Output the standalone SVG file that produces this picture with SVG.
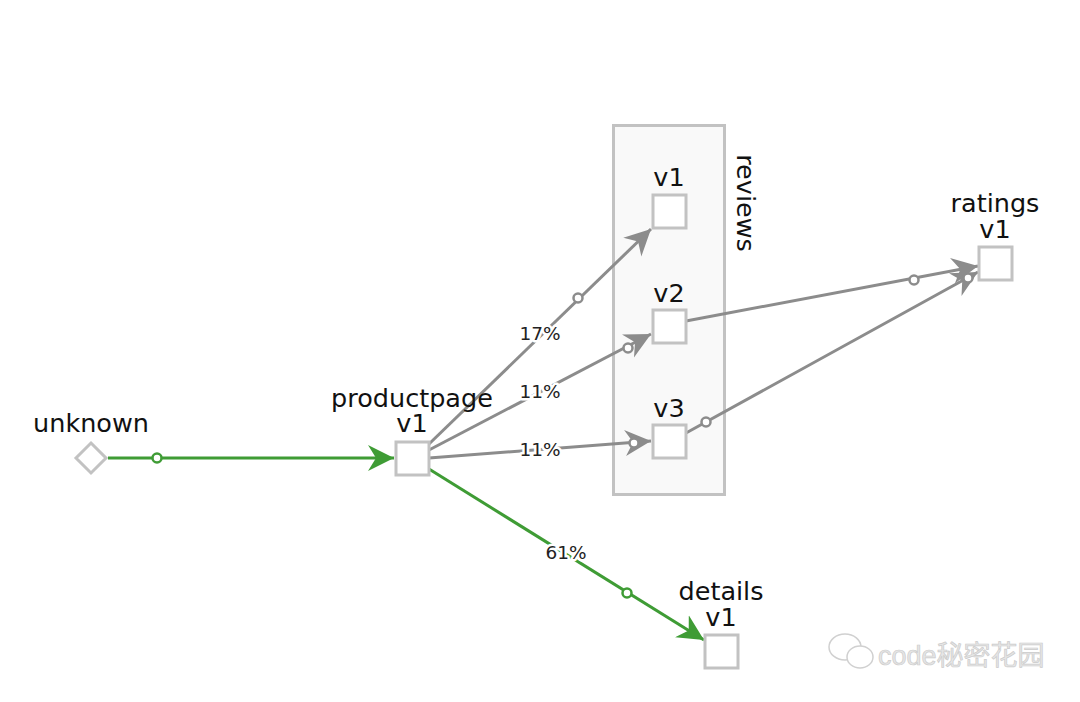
<svg xmlns="http://www.w3.org/2000/svg" width="1080" height="702" viewBox="0 0 1080 702">
<style>
.node{fill:#fff;stroke:#c2c2c2;stroke-width:3}
.lbl{font-family:"DejaVu Sans",Verdana,sans-serif;font-size:25.5px;fill:#111;text-anchor:middle}
.elbl{font-family:"DejaVu Sans",Verdana,sans-serif;font-size:18.5px;fill:#222;text-anchor:middle;paint-order:stroke;stroke:#fff;stroke-width:5px;stroke-linejoin:round}
.eg{stroke:#3f9c35;stroke-width:3;fill:none}
.ey{stroke:#8c8c8c;stroke-width:3;fill:none}
.dg{fill:#fff;stroke:#3f9c35;stroke-width:2.5}
.dy{fill:#fff;stroke:#8c8c8c;stroke-width:2.5}
</style>
<defs>
<marker id="ag" markerUnits="userSpaceOnUse" viewBox="-26 -14 28 28" refX="0" refY="0" markerWidth="28" markerHeight="28" orient="auto">
<path d="M0,0 L-26,-13 L-18,0 L-26,13 Z" fill="#3f9c35"/>
</marker>
<marker id="ay" markerUnits="userSpaceOnUse" viewBox="-26 -14 28 28" refX="0" refY="0" markerWidth="28" markerHeight="28" orient="auto">
<path d="M0,0 L-26,-13 L-18,0 L-26,13 Z" fill="#8c8c8c"/>
</marker>
</defs>
<rect width="1080" height="702" fill="#fff"/>
<g id="reviews">
<rect x="613.5" y="125.5" width="111" height="369" fill="#f9f9f9" stroke="#c2c2c2" stroke-width="3"/>
<text class="lbl" transform="translate(744,203) rotate(90)" x="0" y="0" dominant-baseline="middle">reviews</text>
</g>
<g id="edges">
<line class="eg" x1="108" y1="458" x2="394" y2="458" marker-end="url(#ag)"/>
<line class="eg" x1="429" y1="469" x2="704" y2="640" marker-end="url(#ag)"/>
<line class="ey" x1="429" y1="444" x2="651" y2="229" marker-end="url(#ay)"/>
<line class="ey" x1="429" y1="450" x2="651" y2="334" marker-end="url(#ay)"/>
<line class="ey" x1="429" y1="458" x2="651" y2="441" marker-end="url(#ay)"/>
<line class="ey" x1="686" y1="321" x2="978" y2="266" marker-end="url(#ay)"/>
<line class="ey" x1="686" y1="433" x2="978" y2="272" marker-end="url(#ay)"/>
<circle class="dg" cx="157" cy="458" r="4.5"/>
<circle class="dg" cx="627" cy="593" r="4.5"/>
<circle class="dy" cx="578" cy="298" r="4.5"/>
<circle class="dy" cx="628" cy="348" r="4.5"/>
<circle class="dy" cx="634" cy="443" r="4.5"/>
<circle class="dy" cx="914" cy="280" r="4.5"/>
<circle class="dy" cx="706" cy="422" r="4.5"/>
<circle class="dy" cx="968" cy="278" r="4.5"/>
<text class="elbl" x="540" y="340">17%</text>
<text class="elbl" x="540" y="398">11%</text>
<text class="elbl" x="540" y="456">11%</text>
<text class="elbl" x="566" y="559">61%</text>
</g>
<g id="unknown">
<polygon class="node" points="91,443 106,458 91,473 76,458"/>
<text class="lbl" x="91" y="432">unknown</text>
</g>
<g id="productpage">
<rect class="node" x="396" y="442" width="33" height="33"/>
<text class="lbl" x="412" y="407">productpage</text>
<text class="lbl" x="412" y="432">v1</text>
</g>
<g id="reviews-v1">
<rect class="node" x="653" y="195" width="33" height="33"/>
<text class="lbl" x="669" y="186">v1</text>
</g>
<g id="reviews-v2">
<rect class="node" x="653" y="310" width="33" height="33"/>
<text class="lbl" x="669" y="302">v2</text>
</g>
<g id="reviews-v3">
<rect class="node" x="653" y="425" width="33" height="33"/>
<text class="lbl" x="669" y="417">v3</text>
</g>
<g id="ratings">
<rect class="node" x="979" y="247" width="33" height="33"/>
<text class="lbl" x="995" y="212">ratings</text>
<text class="lbl" x="995" y="238">v1</text>
</g>
<g id="details">
<rect class="node" x="705" y="635" width="33" height="33"/>
<text class="lbl" x="721" y="600">details</text>
<text class="lbl" x="721" y="626">v1</text>
</g>
<g id="watermark" fill="none" stroke="#d0d0d0" stroke-width="1.5">
<ellipse cx="845" cy="647" rx="16" ry="13"/>
<ellipse cx="860" cy="657" rx="13" ry="11" fill="#fff"/>
<text x="878" y="665" font-family="'Liberation Sans','Noto Sans CJK SC',sans-serif" font-size="27" fill="#e6e6e6" stroke="#cccccc" stroke-width="0.7">code秘密花园</text>
</g>
</svg>
